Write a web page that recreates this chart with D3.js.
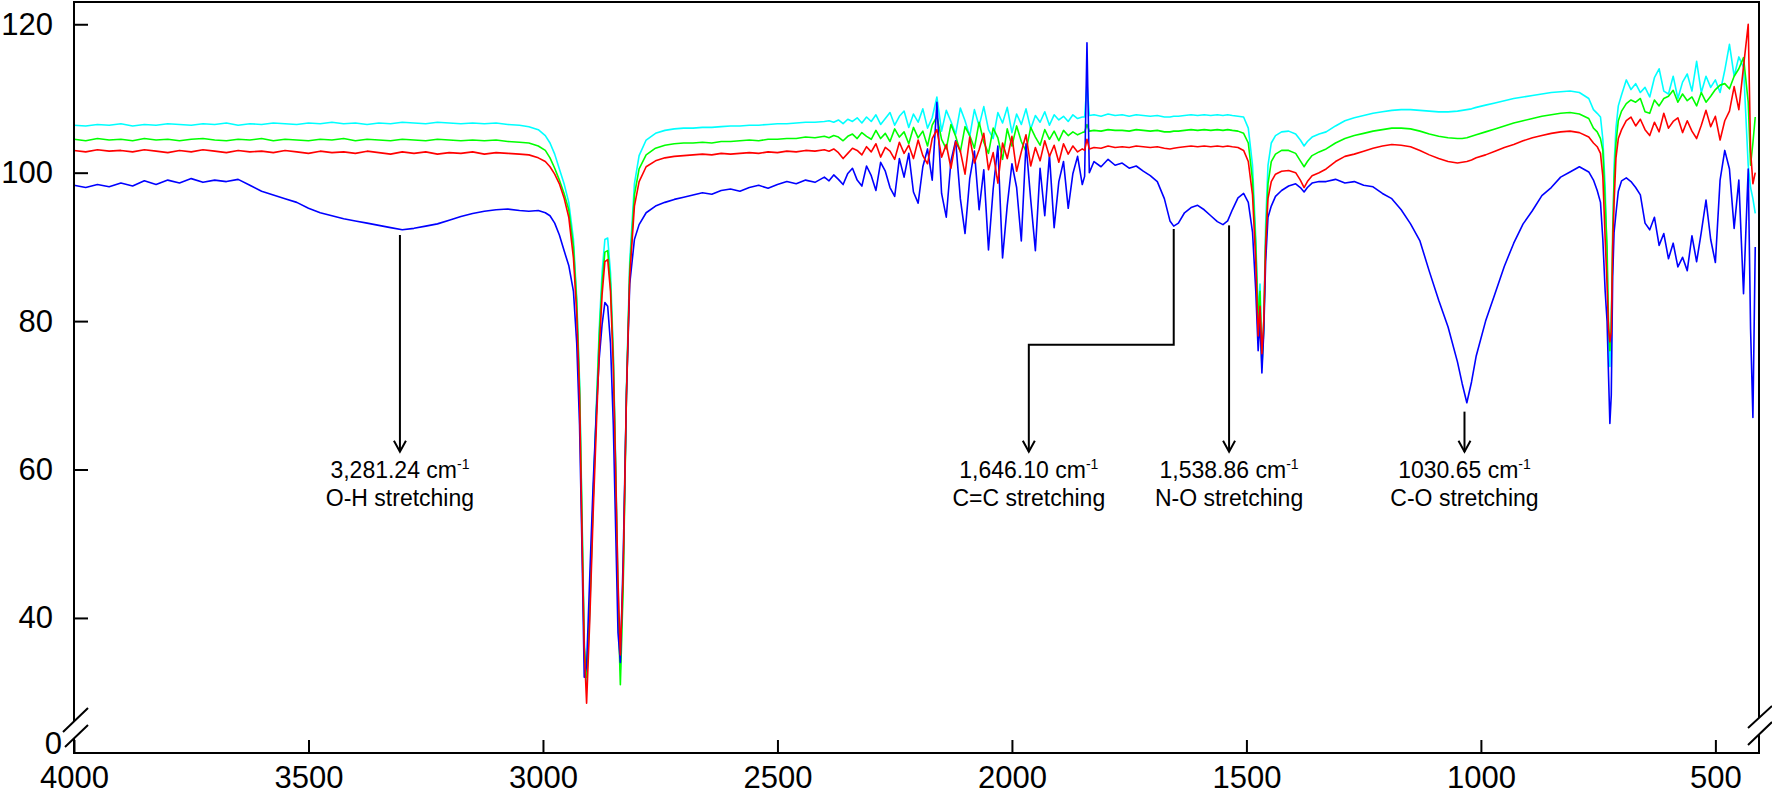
<!DOCTYPE html>
<html>
<head>
<meta charset="utf-8">
<script src="https://cdn.jsdelivr.net/npm/d3@7"></script>
<style>
  body { margin: 0; background: #fff; }
  svg { display: block; font-family: "Liberation Sans", Arial, sans-serif; }
</style>
</head>
<body>
<svg id="chart" width="1772" height="796"></svg>
<script>
// FTIR spectra, wavenumber grid (cm-1) shared by the four traces
var wavenumbers = [
  4000, 3975, 3950, 3925, 3900, 3875, 3850, 3825, 3800, 3775, 3750, 3725, 3700, 3675, 3650, 3625, 3600, 3575, 3550, 3525,
  3500, 3475, 3450, 3425, 3400, 3375, 3350, 3325, 3300, 3275, 3250, 3225, 3200, 3175, 3150, 3125, 3100, 3075, 3050,
  // C-H stretching region
  3030, 3010, 2995, 2985, 2975, 2965, 2955, 2945, 2935, 2928, 2922, 2917, 2912, 2907, 2900, 2893, 2886, 2880, 2874, 2868,
  2862, 2856, 2850, 2845, 2840, 2835, 2829, 2822, 2815, 2805, 2795, 2780, 2760, 2740, 2720, 2700,
  2680, 2660, 2640, 2620, 2600, 2580, 2560, 2540, 2520, 2500, 2480, 2460, 2440, 2420,
  // noisy region
  2400, 2390, 2380, 2370, 2360, 2350, 2340, 2330, 2320, 2310, 2300, 2290, 2280, 2270, 2260, 2250, 2240, 2230, 2220, 2210,
  2200, 2190, 2180, 2170, 2160, 2150, 2140, 2130, 2120, 2110, 2100, 2090, 2080, 2070, 2060, 2050, 2040, 2030, 2020, 2010,
  2000, 1990, 1980, 1970, 1960, 1950, 1940, 1930, 1920, 1910, 1900, 1890, 1880, 1870, 1860, 1850,
  1845, 1840, 1835, 1825, 1810, 1795, 1780, 1765, 1750, 1735, 1720, 1705, 1690, 1675, 1663, 1655, 1645, 1632, 1618, 1604,
  1590, 1576, 1562, 1550, 1540, 1530, 1518, 1506, 1496, 1487, 1480, 1475, 1471, 1467, 1463, 1459, 1454, 1447, 1438, 1425,
  1410, 1395, 1385, 1377, 1370, 1360, 1345,
  1330, 1310, 1290, 1270, 1250, 1230, 1210, 1190, 1170, 1150, 1130, 1110, 1090, 1070, 1050, 1040, 1030, 1020, 1010, 990,
  970, 950, 930, 910, 890, 870, 850, 830, 810, 790, 770,
  760, 752, 745, 740, 735, 731, 728, 725, 722, 719, 716, 712, 707, 700,
  690, 680, 670, 660, 650, 640, 630, 620, 610, 600, 590, 580, 570, 560, 550, 540, 530, 520, 510, 500,
  490, 480, 470, 460, 450, 440, 430, 425, 420, 415
];

var blue = [
  98.3, 98.0, 98.4, 98.1, 98.6, 98.2, 98.9, 98.4, 99.0, 98.6, 99.2, 98.7, 99.0, 98.8, 99.1, 98.3, 97.5, 97.0, 96.5, 96.0,
  95.2, 94.6, 94.2, 93.8, 93.5, 93.2, 92.9, 92.6, 92.3, 92.5, 92.8, 93.1, 93.6, 94.1, 94.5, 94.8, 95.0, 95.1, 94.9,
  94.8, 94.9, 94.6, 94.2, 93.2, 91.6, 89.5, 87.5, 84.0, 77.0, 66.0, 50.0, 32.0, 33.5, 46.0, 58.0, 68.0, 75.0, 79.5, 82.5,
  82.0, 77.0, 66.0, 52.0, 38.0, 34.0, 48.0, 70.0, 85.0, 91.0, 93.0, 94.6, 95.5, 96.0, 96.4, 96.7,
  97.0, 97.3, 97.1, 97.6, 97.8, 97.5, 98.0, 98.3, 97.9, 98.4, 98.8, 98.5, 99.0, 98.7,
  99.4, 98.9, 99.7, 99.1, 98.4, 99.9, 100.6, 99.0, 98.2, 100.9, 99.6, 97.6, 101.4, 100.2, 98.0, 96.8, 101.9, 99.4, 102.6, 97.4,
  95.9, 100.8, 103.2, 99.0, 109.5, 97.2, 94.0, 101.6, 104.3, 96.5, 91.8, 99.2, 102.9, 95.0, 100.4, 89.6, 97.8, 103.6, 88.5, 95.6,
  101.2, 98.0, 90.8, 103.9, 96.4, 89.5, 100.6, 94.2, 102.4, 92.6, 98.8, 101.5, 95.2, 99.9, 102.2, 98.4,
  99.5, 117.5, 100.0, 101.5, 100.8, 101.8, 101.0, 101.3, 100.6, 100.9, 100.2, 99.6, 98.8, 96.5, 93.5, 92.8, 93.2, 94.6, 95.3, 95.6,
  95.0, 94.2, 93.4, 93.0, 93.5, 95.0, 96.6, 97.2, 96.0, 92.0, 84.0, 76.0, 80.0, 73.0, 78.5, 88.0, 94.0, 95.5, 96.8, 97.6,
  98.2, 98.5, 98.0, 97.4, 98.0, 98.6, 98.8,
  98.8, 99.1, 98.6, 98.8, 98.3, 98.1, 97.2, 96.5, 95.0, 93.1, 90.8, 86.7, 82.8, 79.2, 74.5, 71.6, 69.0, 71.8, 75.3, 80.0,
  83.7, 87.4, 90.5, 93.1, 94.9, 96.9, 98.0, 99.4, 100.1, 100.8, 100.1,
  99.0, 97.6, 96.0, 91.0, 84.0, 80.0, 73.0, 66.2, 70.0, 86.0, 92.0, 94.5, 97.5, 98.9,
  99.3, 98.8, 98.0, 97.0, 93.2, 92.3, 94.0, 90.2, 91.8, 88.4, 90.5, 87.3, 88.6, 86.8, 91.5, 88.0, 92.0, 96.3, 91.0, 87.9,
  99.0, 103.0, 100.5, 92.5, 99.0, 83.7, 100.5, 79.0, 67.0, 90.0
];

var red = [
  103.0, 102.8, 103.1, 102.9, 103.0, 102.8, 103.1, 102.9, 102.7, 103.0, 102.8, 103.1, 102.9, 102.7, 103.0, 102.8, 102.9, 102.7, 103.0, 102.8,
  102.6, 102.9, 102.7, 102.8, 102.6, 102.9, 102.7, 102.5, 102.8, 102.6, 102.8, 102.5, 102.7, 102.6, 102.8, 102.5, 102.7, 102.6, 102.5,
  102.4, 102.0, 101.5, 100.8, 99.8, 98.5, 96.6, 94.0, 88.5, 81.0, 70.0, 52.0, 36.0, 28.5, 40.0, 54.0, 66.0, 76.0, 83.5, 88.0,
  88.3, 84.0, 74.0, 60.0, 45.0, 35.0, 46.0, 70.0, 86.0, 95.5, 98.8, 100.8, 101.6, 102.0, 102.2, 102.3,
  102.4, 102.5, 102.4, 102.6, 102.5, 102.6, 102.7, 102.6, 102.8, 102.7, 102.9, 102.8, 103.0, 102.9,
  103.1, 102.9, 103.2, 102.7, 101.9, 102.6, 103.3, 103.0, 102.4, 103.5, 102.8, 103.9, 102.1, 103.4, 102.9, 101.8, 104.1, 102.6, 103.7, 101.9,
  104.4, 102.3, 101.2, 104.6, 105.8, 102.1, 103.8, 100.6, 104.2, 102.9, 99.8, 104.8, 101.3, 103.1, 105.3, 100.4, 102.7, 98.6, 104.0, 101.9,
  104.9, 100.2, 102.8, 105.1, 100.9, 103.4, 101.6, 104.3, 102.2, 103.7, 101.4, 103.9, 102.5, 103.6, 102.8, 103.2,
  103.0, 104.5, 103.2, 103.4, 103.3, 103.6, 103.4, 103.5, 103.4, 103.6, 103.5, 103.4, 103.5, 103.3, 103.2, 103.3, 103.4, 103.5, 103.6, 103.5,
  103.6, 103.5, 103.6, 103.5, 103.6, 103.5, 103.4, 103.0, 101.5, 97.0, 88.0, 78.0, 82.0, 75.6, 80.0, 90.0, 96.5, 98.8, 99.8, 100.2,
  100.3, 100.0, 99.0, 98.0, 98.8, 99.6, 100.0,
  100.5, 101.5, 102.2, 102.5, 102.9, 103.3, 103.6, 103.8, 103.7, 103.5, 103.0, 102.4, 101.9, 101.5, 101.3, 101.4, 101.5, 101.7, 102.0, 102.4,
  102.9, 103.4, 103.8, 104.3, 104.7, 105.0, 105.3, 105.5, 105.6, 105.4, 104.8,
  104.0, 103.5, 102.6, 99.5, 91.0, 85.0, 79.0, 77.2, 78.5, 90.0, 96.0, 102.0, 104.6, 105.8,
  107.0, 107.5, 106.3, 107.2, 105.8, 105.0, 106.8, 105.5, 108.0, 106.0, 106.9, 107.4, 105.4, 107.0, 105.6, 104.6, 106.4, 108.4, 106.2, 107.6,
  104.4, 107.0, 108.3, 111.6, 108.5, 114.3, 120.0, 103.0, 98.5, 100.0
];

var green = [
  104.5, 104.3, 104.6, 104.4, 104.5, 104.3, 104.6, 104.4, 104.5, 104.3, 104.5, 104.6, 104.4, 104.3, 104.5, 104.4, 104.6, 104.3, 104.5, 104.4,
  104.3, 104.5, 104.4, 104.6, 104.3, 104.5, 104.4, 104.3, 104.5, 104.4, 104.3, 104.5, 104.4, 104.3, 104.4, 104.3, 104.4, 104.2, 104.1,
  104.0, 103.6, 103.0, 102.0, 100.6, 99.0, 97.2, 95.0, 90.0, 82.5, 71.0, 54.0, 36.0, 32.0, 42.0, 56.0, 68.0, 78.0, 85.0, 89.3,
  89.5, 85.0, 75.0, 60.0, 42.0, 31.0, 44.0, 70.0, 87.0, 97.0, 100.5, 102.4, 103.3, 103.7, 103.9, 104.0,
  104.0, 104.1, 104.0, 104.2, 104.2, 104.3, 104.4, 104.3, 104.5, 104.5, 104.6, 104.6, 104.8, 104.7,
  104.9, 104.7, 105.0, 104.8, 104.3, 104.9, 105.2, 104.6, 105.4, 104.9, 104.5, 105.7, 104.6, 105.3, 104.2, 105.9, 104.8, 105.5, 103.9, 106.1,
  104.7, 105.6, 103.6, 106.4, 107.6, 104.5, 103.2, 106.5, 104.9, 102.8, 106.2, 105.0, 103.3, 106.8, 104.1, 102.6, 106.0, 104.7, 101.8, 105.9,
  103.6, 106.3, 104.2, 102.9, 106.1, 104.8, 103.7, 105.8, 104.5, 105.6, 104.3, 105.7, 105.0, 105.5, 105.1, 105.4,
  105.5, 106.5, 105.6, 105.7, 105.6, 105.8, 105.7, 105.7, 105.6, 105.8, 105.7, 105.6, 105.7, 105.5, 105.5, 105.6, 105.6, 105.7, 105.8, 105.7,
  105.8, 105.7, 105.8, 105.7, 105.8, 105.7, 105.6, 105.3, 104.0, 99.0, 90.0, 80.0, 84.0, 73.8, 79.0, 91.0, 98.5, 101.5, 102.5, 103.0,
  103.0, 102.6, 101.6, 100.8, 101.5, 102.3, 102.8,
  103.2, 104.0, 104.6, 105.0, 105.3, 105.6, 105.8, 106.0, 106.0, 105.9, 105.6, 105.2, 104.9, 104.7, 104.6, 104.6, 104.7, 104.9, 105.1, 105.5,
  105.9, 106.3, 106.7, 107.0, 107.3, 107.6, 107.8, 108.0, 108.1, 107.9, 107.3,
  106.0, 105.5, 104.6, 103.0, 96.0, 90.0, 80.0, 76.0, 79.0, 92.0, 99.0, 104.0, 107.0, 108.3,
  109.3, 109.8, 109.5, 110.0, 108.2, 108.0, 109.8, 109.0, 110.0, 110.3, 111.1, 109.5, 110.6, 109.7, 110.2, 109.0, 110.8, 109.5, 110.3, 111.2,
  111.8, 112.0, 111.3, 113.0, 114.0, 115.5, 109.5, 101.0, 104.0, 107.5
];

var cyan = [
  106.4, 106.3, 106.5, 106.4, 106.6, 106.3, 106.5, 106.4, 106.6, 106.5, 106.4, 106.6, 106.5, 106.7, 106.4, 106.6, 106.5, 106.7, 106.6, 106.5,
  106.7, 106.6, 106.8, 106.6, 106.7, 106.5, 106.7, 106.6, 106.8, 106.7, 106.6, 106.8, 106.7, 106.6, 106.7, 106.6, 106.7, 106.5, 106.4,
  106.2, 105.8, 105.0, 104.0, 102.5, 100.5, 98.5, 96.0, 91.0, 83.0, 72.0, 55.0, 37.0, 31.0, 41.0, 56.0, 69.0, 79.0, 86.5, 91.0,
  91.2, 86.5, 76.0, 61.0, 44.0, 33.0, 45.0, 71.0, 88.0, 98.5, 102.3, 104.4, 105.3, 105.7, 105.9, 106.0,
  106.0, 106.1, 106.1, 106.2, 106.3, 106.3, 106.4, 106.4, 106.5, 106.6, 106.6, 106.7, 106.8, 106.8,
  106.9, 107.0, 106.8, 107.1, 106.6, 107.2, 106.9, 107.4, 106.7, 107.5, 106.9, 107.8, 106.5, 107.3, 108.1, 106.4, 107.6, 108.3, 106.1, 107.9,
  106.8, 108.6, 106.0, 107.4, 110.2, 105.6, 108.4, 106.9, 105.2, 108.7, 107.0, 104.9, 108.5, 106.3, 108.9, 105.8, 104.6, 108.1, 106.7, 108.8,
  105.4, 107.9, 106.5, 108.6, 105.9, 107.7, 106.8, 108.2, 106.4, 107.8, 107.1, 107.6, 106.9, 107.8, 107.3, 107.5,
  107.5, 112.0, 107.7, 107.8, 107.6, 107.9, 107.7, 107.8, 107.6, 107.8, 107.7, 107.6, 107.7, 107.5, 107.5, 107.6, 107.6, 107.7, 107.8, 107.7,
  107.8, 107.7, 107.8, 107.7, 107.8, 107.7, 107.6, 107.5, 106.0, 101.0, 91.0, 81.0, 85.0, 75.0, 80.0, 93.0, 101.0, 104.0, 105.0, 105.5,
  105.6, 105.2, 104.4, 103.6, 104.2, 104.8, 105.2,
  105.5, 106.3, 107.0, 107.4, 107.7, 108.0, 108.2, 108.4, 108.5, 108.5, 108.4, 108.3, 108.2, 108.2, 108.3, 108.4, 108.5, 108.6, 108.8, 109.1,
  109.4, 109.7, 110.0, 110.2, 110.4, 110.6, 110.8, 110.9, 111.0, 110.8, 110.0,
  108.5, 108.0, 107.5, 104.5, 98.0, 88.0, 78.0, 73.9, 80.0, 88.0, 101.0, 106.0, 109.0, 110.5,
  112.5, 111.2, 112.0, 110.8, 111.5, 110.2, 112.8, 114.0, 111.0, 110.6, 113.0, 110.0, 112.2, 113.3, 111.0, 115.0, 110.8, 113.0, 111.5, 112.5,
  110.8, 113.8, 117.3, 113.0, 115.6, 114.2, 101.0, 98.0, 96.5, 94.5
];

var xTicks = [4000, 3500, 3000, 2500, 2000, 1500, 1000, 500];
var yTicks = [40, 60, 80, 100, 120];

// peak annotations
var noteValues = ["3,281.24", "1,646.10", "1,538.86", "1030.65"];
var noteNames = ["O-H stretching", "C=C stretching", "N-O stretching", "C-O stretching"];
var notePeak = [3305, 1655, 1537, 1035];   // where the line leaves the curve
var noteText = [3305, 1964, 1537, 1035];   // where the arrow lands
var noteTop = [91.6, 92.4, 92.9, 67.8];
var noteElbow = 76.8;
var noteTip = 62.4;

[blue, red, green, cyan].forEach(function (s) {
  if (s.length !== wavenumbers.length) throw new Error('length mismatch ' + s.length + ' vs ' + wavenumbers.length);
});

var svg = d3.select('#chart');
var x = d3.scaleLinear().domain([4000, 407]).range([74, 1759]);
var y = d3.scaleLinear().domain([21.8, 123]).range([753, 2]);

var line = d3.line()
  .x(function (d, i) { return x(wavenumbers[i]); })
  .y(function (d) { return y(d); });

var series = [
  { color: '#00ffff', values: cyan },
  { color: '#00ff00', values: green },
  { color: '#0000ff', values: blue },
  { color: '#ff0000', values: red }
];

svg.append('g')
  .selectAll('path')
  .data(series)
  .enter()
  .append('path')
  .attr('d', function (d) { return line(d.values); })
  .attr('fill', 'none')
  .attr('stroke', function (d) { return d.color; })
  .attr('stroke-width', 1.6)
  .attr('stroke-linejoin', 'round');

// axes
var yAxis = d3.axisLeft(y).tickValues(yTicks).tickSize(-14).tickPadding(21);
var gy = svg.append('g').attr('transform', 'translate(74,0)').call(yAxis);
gy.select('.domain').remove();
gy.attr('font-size', null).attr('font-family', null);
gy.selectAll('line').attr('stroke', '#000').attr('stroke-width', 2);
gy.selectAll('text').attr('font-size', 31).attr('fill', '#000');

var xAxis = d3.axisBottom(x).tickValues(xTicks).tickSize(-13).tickPadding(13).tickFormat(d3.format('d'));
var gx = svg.append('g').attr('transform', 'translate(0,753)').call(xAxis);
gx.select('.domain').remove();
gx.attr('font-size', null).attr('font-family', null);
gx.selectAll('line').attr('stroke', '#000').attr('stroke-width', 2);
gx.selectAll('text').attr('font-size', 31).attr('fill', '#000');

// frame with axis breaks near the bottom
var frame = svg.append('g').attr('stroke', '#000').attr('stroke-width', 2).attr('fill', 'none');
frame.append('path').attr('d', 'M74,753H1759').attr('stroke-linecap', 'square');
frame.append('path').attr('d', 'M74,2H1759').attr('stroke-linecap', 'square');
frame.append('path').attr('d', 'M74,2V721M74,738V753');
frame.append('path').attr('d', 'M1759,2V718M1759,734V753');
frame.append('path').attr('d', 'M63,732L88,708M65,747L88,725');
frame.append('path').attr('d', 'M1748,728L1772,706M1748,745L1772,722');

svg.append('text')
  .attr('x', 62).attr('y', 754)
  .attr('text-anchor', 'end')
  .attr('font-size', 31)
  .text('0');

// annotations
var notes = svg.append('g')
  .selectAll('g')
  .data(d3.range(noteValues.length))
  .enter()
  .append('g');

notes.append('path')
  .attr('fill', 'none')
  .attr('stroke', '#000')
  .attr('stroke-width', 2)
  .attr('d', function (i) {
    var x0 = x(notePeak[i]), x1 = x(noteText[i]);
    if (notePeak[i] === noteText[i]) return 'M' + x0 + ',' + y(noteTop[i]) + 'V' + y(noteTip);
    return 'M' + x0 + ',' + y(noteTop[i]) + 'V' + y(noteElbow) + 'H' + x1 + 'V' + y(noteTip);
  });

notes.append('path')
  .attr('fill', 'none')
  .attr('stroke', '#000')
  .attr('stroke-width', 2)
  .attr('d', function (i) {
    var cx = x(noteText[i]), ty = y(noteTip);
    return 'M' + (cx - 6) + ',' + (ty - 11) + 'L' + cx + ',' + ty + 'L' + (cx + 6) + ',' + (ty - 11);
  });

var t1 = notes.append('text')
  .attr('x', function (i) { return x(noteText[i]); })
  .attr('y', y(noteTip) + 26)
  .attr('text-anchor', 'middle')
  .attr('font-size', 23);
t1.append('tspan').text(function (i) { return noteValues[i] + ' cm'; });
t1.append('tspan').attr('font-size', 14).attr('dy', -9).text('-1');

notes.append('text')
  .attr('x', function (i) { return x(noteText[i]); })
  .attr('y', y(noteTip) + 54)
  .attr('text-anchor', 'middle')
  .attr('font-size', 23)
  .text(function (i) { return noteNames[i]; });
</script>
</body>
</html>
